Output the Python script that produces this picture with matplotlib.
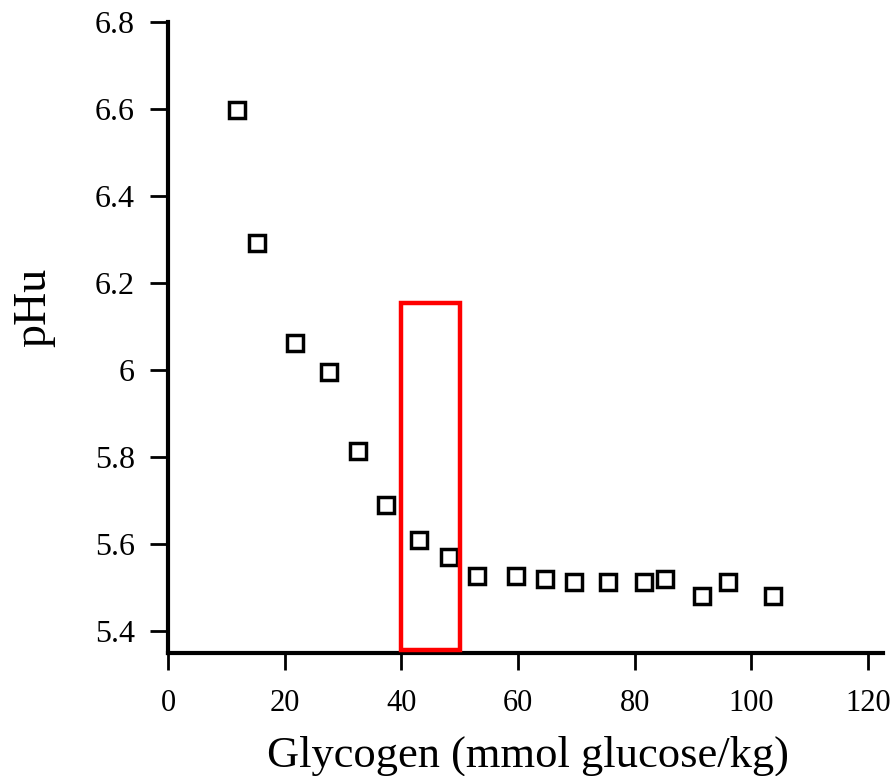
import matplotlib
matplotlib.use('Agg')
import matplotlib.pyplot as plt
from matplotlib.patches import Rectangle

# pHu vs glycogen
glycogen = [11.8, 15.2, 21.7, 27.6, 32.6, 37.3, 43.0, 48.1, 52.9, 59.7,
            64.6, 69.6, 75.5, 81.7, 85.3, 91.6, 96.0, 103.7]
phu = [6.598, 6.292, 6.062, 5.995, 5.814, 5.690, 5.609, 5.570, 5.526, 5.526,
       5.520, 5.513, 5.513, 5.513, 5.520, 5.480, 5.513, 5.480]

xticks = [0, 20, 40, 60, 80, 100, 120]
yticks = [5.4, 5.6, 5.8, 6.0, 6.2, 6.4, 6.6, 6.8]
ytick_labels = ['5.4', '5.6', '5.8', '6', '6.2', '6.4', '6.6', '6.8']

# highlighted region
box_x = (40, 50)
box_y = (5.355, 6.155)

plt.rcParams['font.family'] = ['Liberation Serif', 'DejaVu Serif']

fig = plt.figure(figsize=(8.96, 7.76), dpi=100)
ax = fig.add_axes([0.1875, 0.1585, 0.798, 0.813])

ax.plot(glycogen, phu, linestyle='none', marker='s', markersize=11,
        markerfacecolor='white', markeredgecolor='black', markeredgewidth=2.5)

ax.add_patch(Rectangle((box_x[0], box_y[0]), box_x[1] - box_x[0], box_y[1] - box_y[0],
                       fill=False, edgecolor='#ff0000', linewidth=3.2, clip_on=False,
                       zorder=5))

ax.set_xlim(0, 122.6)
ax.set_ylim(5.349, 6.8)
ax.set_xticks(xticks)
ax.set_yticks(yticks)
ax.set_yticklabels(ytick_labels)

for s in ['top', 'right']:
    ax.spines[s].set_visible(False)
for s in ['left', 'bottom']:
    ax.spines[s].set_linewidth(3)

ax.tick_params(axis='y', direction='out', length=13, width=2, pad=11, labelsize=23)
ax.tick_params(axis='x', direction='out', length=12, width=2, pad=14, labelsize=22)

ax.set_xlabel('Glycogen (mmol glucose/kg)', fontsize=32)
ax.set_ylabel('pHu', fontsize=33)
ax.xaxis.set_label_coords(0.503, -0.13)
ax.yaxis.set_label_coords(-0.158, 0.548)

fig.savefig('out.png', dpi=100)
